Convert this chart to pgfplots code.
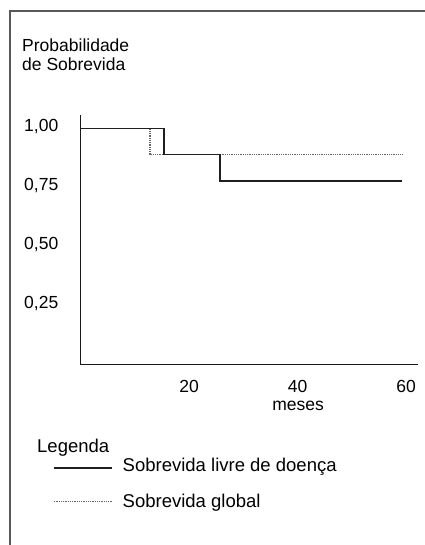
\documentclass[border=0pt]{standalone}
\usepackage{pgfplots}
\pgfplotsset{compat=1.18}
\usepackage{fontspec}
\setmainfont{Liberation Sans}
\newcommand{\chartfont}{\fontsize{17.5bp}{21bp}\selectfont}
\newcommand{\legfont}{\fontsize{18.5bp}{22bp}\selectfont}
\begin{document}
\begin{tikzpicture}
\path[use as bounding box] (0,0) rectangle (425bp,-545bp);
\draw[line width=2bp, color=black!65] (10bp,-545bp) -- (10bp,-11bp) -- (425bp,-11bp);
\node[anchor=base west, inner sep=0pt, font=\chartfont] at (22bp,-51bp) {Probabilidade};
\node[anchor=base west, inner sep=0pt, font=\chartfont] at (22bp,-70bp) {de Sobrevida};
\node[anchor=base west, inner sep=0pt, font=\legfont] at (37bp,-452bp) {Legenda};
\begin{axis}[
  at={(80.5bp,-364.5bp)}, anchor=south west,
  scale only axis, width=337.5bp, height=249.5bp,
  xmin=0, xmax=62.2, ymin=0, ymax=1.057,
  axis x line=bottom, axis y line=left,
  axis line style={-, line width=1.5bp, black!90},
  xtick={20,40,60}, xticklabels={20,40,60},
  ytick={0.25,0.5,0.75,1}, yticklabels={{0,25},{0,50},{0,75},{1,00}},
  major tick length=0pt,
  /pgf/number format/assume math mode=true,
  ticklabel style={font=\chartfont, inner sep=0pt},
  xticklabel style={anchor=base, yshift=-27.5bp},
  yticklabel style={anchor=base east, xshift=-22bp, yshift=-3bp},
  xlabel={meses},
  xlabel style={at={(axis description cs:0.645,0)}, anchor=base, yshift=-46bp, inner sep=0pt, font=\chartfont},
  legend style={at={(axis description cs:-0.0815,-0.3768)}, anchor=north west,
    draw=none, fill=none, inner sep=0pt, outer sep=0pt, row sep=20.7bp,
    font=\legfont, nodes={inner sep=0pt, anchor=base west}},
  clip=false,
]
\addplot[const plot, line width=1.2bp, color=black!60, dash pattern=on 1bp off 0.8bp, forget plot]
  coordinates {(0,1) (12.8,0.889) (59.2,0.889)};
\addplot[const plot, line width=1.5bp, color=black!88,
  legend image code/.code={\path[draw=none] (0bp,0bp) -- (69bp,0bp); \draw[line width=1.5bp, black!88, solid] (0bp,4bp) -- (58bp,4bp);}]
  coordinates {(0,1) (15.4,0.889) (25.7,0.778) (59.2,0.778)};
\addlegendentry{Sobrevida livre de doença}
\addlegendimage{legend image code/.code={\path[draw=none] (0bp,0bp) -- (69bp,0bp); \draw[line width=1.2bp, black!60, dash pattern=on 1bp off 0.8bp] (0bp,6bp) -- (58bp,6bp);}}
\addlegendentry{Sobrevida global}
\end{axis}
\end{tikzpicture}
\end{document}
